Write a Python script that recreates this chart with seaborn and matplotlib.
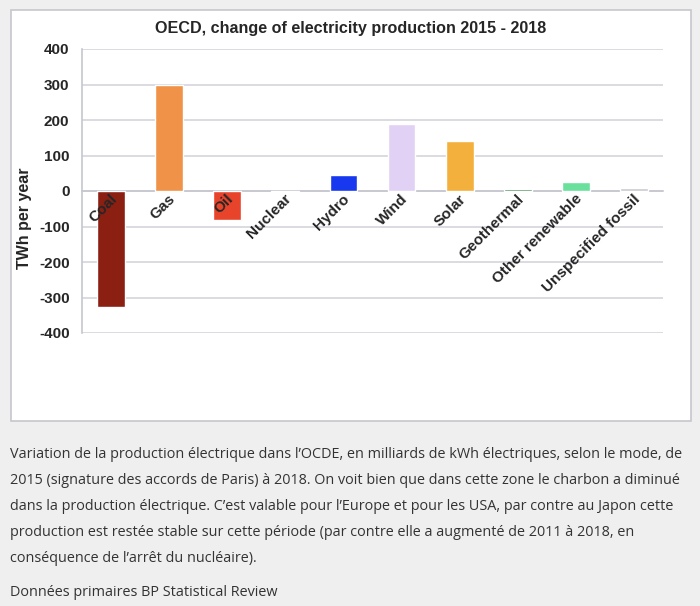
# OECD change of electricity production 2015 - 2018, by source
import matplotlib
matplotlib.use("Agg")
import matplotlib.pyplot as plt
import matplotlib.patches as mpatches
import matplotlib.transforms as mtransforms
import seaborn as sns

# data (TWh per year)
sources = ["Coal", "Gas", "Oil", "Nuclear", "Hydro", "Wind", "Solar",
           "Geothermal", "Other renewable", "Unspecified fossil"]
change_twh = [-327, 300, -82, -2, 45, 189, 142, 5, 26, 8]
bar_colors = ["#8a1f12", "#f09247", "#e8442b", "#a9c6c4", "#1738ee",
              "#e1d1f5", "#f3b03c", "#3e8a4c", "#69e09c", "#c9c9cf"]
y_ticks = [400, 300, 200, 100, 0, -100, -200, -300, -400]

caption_lines = [
    "Variation de la production électrique dans l\u2019OCDE, en milliards de kWh électriques, selon le mode, de",
    "2015 (signature des accords de Paris) à 2018. On voit bien que dans cette zone le charbon a diminué",
    "dans la production électrique. C\u2019est valable pour l\u2019Europe et pour les USA, par contre au Japon cette",
    "production est restée stable sur cette période (par contre elle a augmenté de 2011 à 2018, en",
    "conséquence de l\u2019arrêt du nucléaire).",
]
source_line = "Données primaires BP Statistical Review"

sns.set_style("white")
plt.rcParams["font.family"] = ["Liberation Sans", "DejaVu Sans"]

W, H = 700, 606
fig = plt.figure(figsize=(W / 100, H / 100), dpi=100)
fig.patch.set_facecolor("#efeff0")

# white chart panel (drawn behind the axes)
panel = mpatches.Rectangle((11 / W, 1 - 421 / H), (691 - 11) / W, (421 - 10) / H,
                           transform=fig.transFigure, facecolor="white",
                           edgecolor="#c6c6ce", linewidth=1.2, zorder=-5)
fig.patches.append(panel)

ax = fig.add_axes([82 / W, 1 - 333 / H, (663 - 82) / W, (333 - 49) / H])
ax.set_zorder(2)
ax.set_facecolor("white")

# horizontal gridlines under the bars, axis labels drawn over the bars
for t in y_ticks:
    ax.axhline(t, color="#d4d4dc", linewidth=1.2, zorder=0.5)

sns.barplot(x=sources, y=change_twh, hue=sources, palette=bar_colors,
            saturation=1, legend=False, width=0.48, ax=ax, zorder=2)
ax.set_axisbelow(False)

ax.set_ylim(-400, 400)
ax.set_xlim(-0.5, len(sources) - 0.5)
ax.set_yticks(y_ticks)
ax.set_yticklabels([str(t) for t in y_ticks], fontsize=11, fontweight="bold")

for side in ["top", "right"]:
    ax.spines[side].set_visible(False)
ax.spines["left"].set_color("#c6c6ce")
ax.spines["left"].set_linewidth(1.2)
ax.spines["left"].set_zorder(0.6)
ax.spines["bottom"].set_position(("data", 0))
ax.spines["bottom"].set_color("#c6c6ce")
ax.spines["bottom"].set_linewidth(1.2)
ax.spines["bottom"].set_zorder(0.6)

ax.tick_params(axis="y", length=5, width=1, color="#c6c6ce", pad=4, direction="out")
ax.set_xticks(range(len(sources)))
ax.set_xticks([i - 0.5 for i in range(len(sources) + 1)], minor=True)
ax.tick_params(axis="x", which="major", length=0, pad=2)
ax.tick_params(axis="x", which="minor", length=4, width=1, color="#c6c6ce", direction="out")
ax.set_xticklabels(sources, rotation=45, ha="right", va="top",
                   rotation_mode="anchor", fontsize=11, fontweight="bold")
shift = mtransforms.ScaledTranslation(-1 / 100, 2 / 100, fig.dpi_scale_trans)
for lab in ax.get_xticklabels():
    lab.set_transform(lab.get_transform() + shift)

ax.set_xlabel("")
ax.set_ylabel("TWh per year", fontsize=11.5, fontweight="bold")
ax.yaxis.set_label_coords(-50 / (663 - 82), 0.405)

fig.text(351 / W, 1 - 28 / H, "OECD, change of electricity production 2015 - 2018",
         ha="center", va="center", fontsize=11.6, fontweight="bold")

# caption below the chart
cap_font = ["Open Sans", "DejaVu Sans"]
for i, line in enumerate(caption_lines):
    fig.text(10 / W, 1 - (455 + 26 * i) / H, line, ha="left", va="center",
             fontsize=10.4, color="#333333", family=cap_font)
fig.text(10 / W, 1 - 592 / H, source_line, ha="left", va="center",
         fontsize=10.4, color="#333333", family=cap_font)

fig.savefig("out.png", dpi=100, facecolor=fig.get_facecolor())
